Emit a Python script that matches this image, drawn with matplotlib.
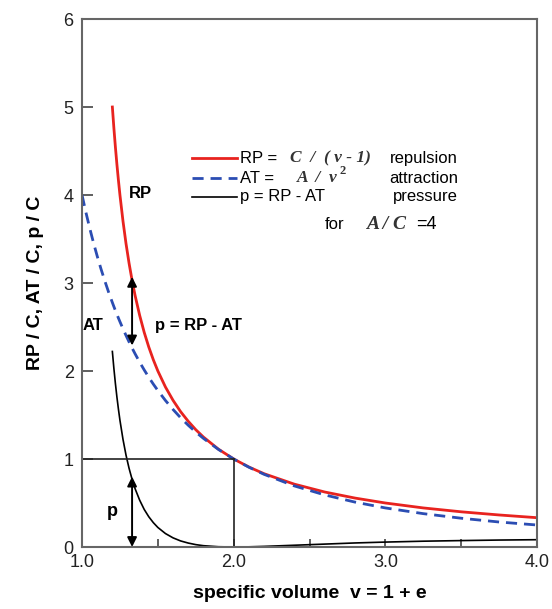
import matplotlib.pyplot as plt

plt.rcParams['font.family'] = ['Liberation Sans', 'DejaVu Sans']

# ---- data ----
v_rp = [1.20, 1.21, 1.22, 1.23, 1.24, 1.25, 1.27, 1.29, 1.31, 1.33, 1.35, 1.38,
        1.41, 1.44, 1.47, 1.50, 1.55, 1.60, 1.65, 1.70, 1.75, 1.80, 1.90, 2.00,
        2.10, 2.20, 2.40, 2.60, 2.80, 3.00, 3.25, 3.50, 3.75, 4.00]
rp = [5.000, 4.762, 4.545, 4.348, 4.167, 4.000, 3.704, 3.448, 3.226, 3.030, 2.857, 2.632,
      2.439, 2.273, 2.128, 2.000, 1.818, 1.667, 1.538, 1.429, 1.333, 1.250, 1.111, 1.000,
      0.909, 0.833, 0.714, 0.625, 0.556, 0.500, 0.444, 0.400, 0.364, 0.333]

v_at = [1.000, 1.025, 1.050, 1.075, 1.100, 1.125, 1.150, 1.175] + v_rp
at = [4.000, 3.807, 3.628, 3.461, 3.306, 3.160, 3.025, 2.897,
      2.778, 2.732, 2.687, 2.644, 2.601, 2.560, 2.480, 2.404, 2.331, 2.261, 2.195, 2.100,
      2.012, 1.929, 1.851, 1.778, 1.665, 1.563, 1.469, 1.384, 1.306, 1.235, 1.108, 1.000,
      0.907, 0.826, 0.694, 0.592, 0.510, 0.444, 0.379, 0.327, 0.284, 0.250]

v_p = v_rp
p = [2.222, 2.030, 1.858, 1.704, 1.566, 1.440, 1.224, 1.044, 0.895, 0.769, 0.662, 0.532,
     0.427, 0.344, 0.277, 0.222, 0.153, 0.104, 0.069, 0.045, 0.027, 0.015, 0.003, 0.000,
     0.002, 0.007, 0.020, 0.033, 0.046, 0.056, 0.066, 0.073, 0.079, 0.083]

# arrows at v = 1.33
arrow_v = 1.33
arrow_rp_at = (2.29, 3.07)
arrow_p = (0.0, 0.80)

RED = "#e8231f"
BLUE = "#2b4db3"

fig = plt.figure(figsize=(5.52, 6.09), dpi=100)
ax = fig.add_axes([0.1486, 0.1018, 0.8243, 0.867])

ax.plot(v_rp, rp, color=RED, lw=2.0)
ax.plot(v_at, at, color=BLUE, lw=2.0, ls=(0, (4, 2.5)))
ax.plot(v_p, p, color="black", lw=1.2)

# reference lines at v = 2, value 1
ax.plot([1.0, 2.0], [1.0, 1.0], color="#222222", lw=1.2)
ax.plot([2.0, 2.0], [0.0, 1.0], color="#222222", lw=1.2)

# double arrows
arr = dict(arrowstyle="<|-|>", color="black", lw=1.4, mutation_scale=14,
           shrinkA=0, shrinkB=0)
ax.annotate("", xy=(arrow_v, arrow_rp_at[1]), xytext=(arrow_v, arrow_rp_at[0]), arrowprops=arr)
ax.annotate("", xy=(arrow_v, arrow_p[1]), xytext=(arrow_v, arrow_p[0]), arrowprops=arr)

# curve labels
ax.text(1.385, 4.02, "RP", fontsize=12, fontweight="bold", ha="center", va="center")
ax.text(1.07, 2.52, "AT", fontsize=12, fontweight="bold", ha="center", va="center")
ax.text(1.48, 2.52, "p = RP - AT", fontsize=12, fontweight="bold", ha="left", va="center")
ax.text(1.20, 0.40, "p", fontsize=13, fontweight="bold", ha="center", va="center")

# hand-made legend
rows = [4.42, 4.19, 3.98]
ax.plot([1.725, 2.02], [rows[0]] * 2, color=RED, lw=2.0)
ax.plot([1.725, 2.02], [rows[1]] * 2, color=BLUE, lw=2.0, ls=(0, (4, 2.5)))
ax.plot([1.725, 2.02], [rows[2]] * 2, color="black", lw=1.2)

serif = dict(family="Liberation Serif", style="italic", fontweight="bold",
             fontsize=12.5, color="#333333", va="center")
ax.text(2.04, rows[0], "RP =", fontsize=12, va="center")
ax.text(2.37, rows[0], "C  /  ( v - 1)", **serif)
ax.text(2.04, rows[1], "AT =", fontsize=12, va="center")
ax.text(2.42, rows[1], "A  /  v", **serif)
ax.text(2.70, rows[1] + 0.08, "2", family="Liberation Serif", fontweight="bold",
        fontsize=9, color="#333333", va="center")
ax.text(2.04, rows[2], "p = RP - AT", fontsize=12, va="center")
ax.text(3.48, rows[0], "repulsion", fontsize=12, ha="right", va="center")
ax.text(3.48, rows[1], "attraction", fontsize=12, ha="right", va="center")
ax.text(3.48, rows[2], "pressure", fontsize=12, ha="right", va="center")

ax.text(2.60, 3.66, "for", fontsize=12, va="center")
ax.text(2.87, 3.66, "A / C", family="Liberation Serif", style="italic", fontweight="bold",
        fontsize=14, color="#333333", va="center")
ax.text(3.20, 3.66, "=4", fontsize=13, va="center")

# axes styling
ax.set_xlim(1.0, 4.0)
ax.set_ylim(0, 6)
ax.set_xticks([1.0, 2.0, 3.0, 4.0])
ax.set_xticklabels(["1.0", "2.0", "3.0", "4.0"])
ax.set_xticks([1.5, 2.5, 3.5], minor=True)
ax.set_yticks(range(7))
ax.tick_params(axis="both", which="both", direction="in", labelsize=13,
               colors="#444444", labelcolor="#222222")
ax.tick_params(axis="y", length=8, width=1.2, pad=6)
ax.tick_params(axis="x", which="both", length=6, width=1.2, pad=5)
for s in ax.spines.values():
    s.set_color("#666666")
    s.set_linewidth(1.5)

ax.set_xlabel("specific volume  v = 1 + e", fontsize=14, fontweight="bold", labelpad=10)
ax.set_ylabel("RP / C, AT / C, p / C", fontsize=14, fontweight="bold", labelpad=14)

fig.savefig("out.png", dpi=100)
